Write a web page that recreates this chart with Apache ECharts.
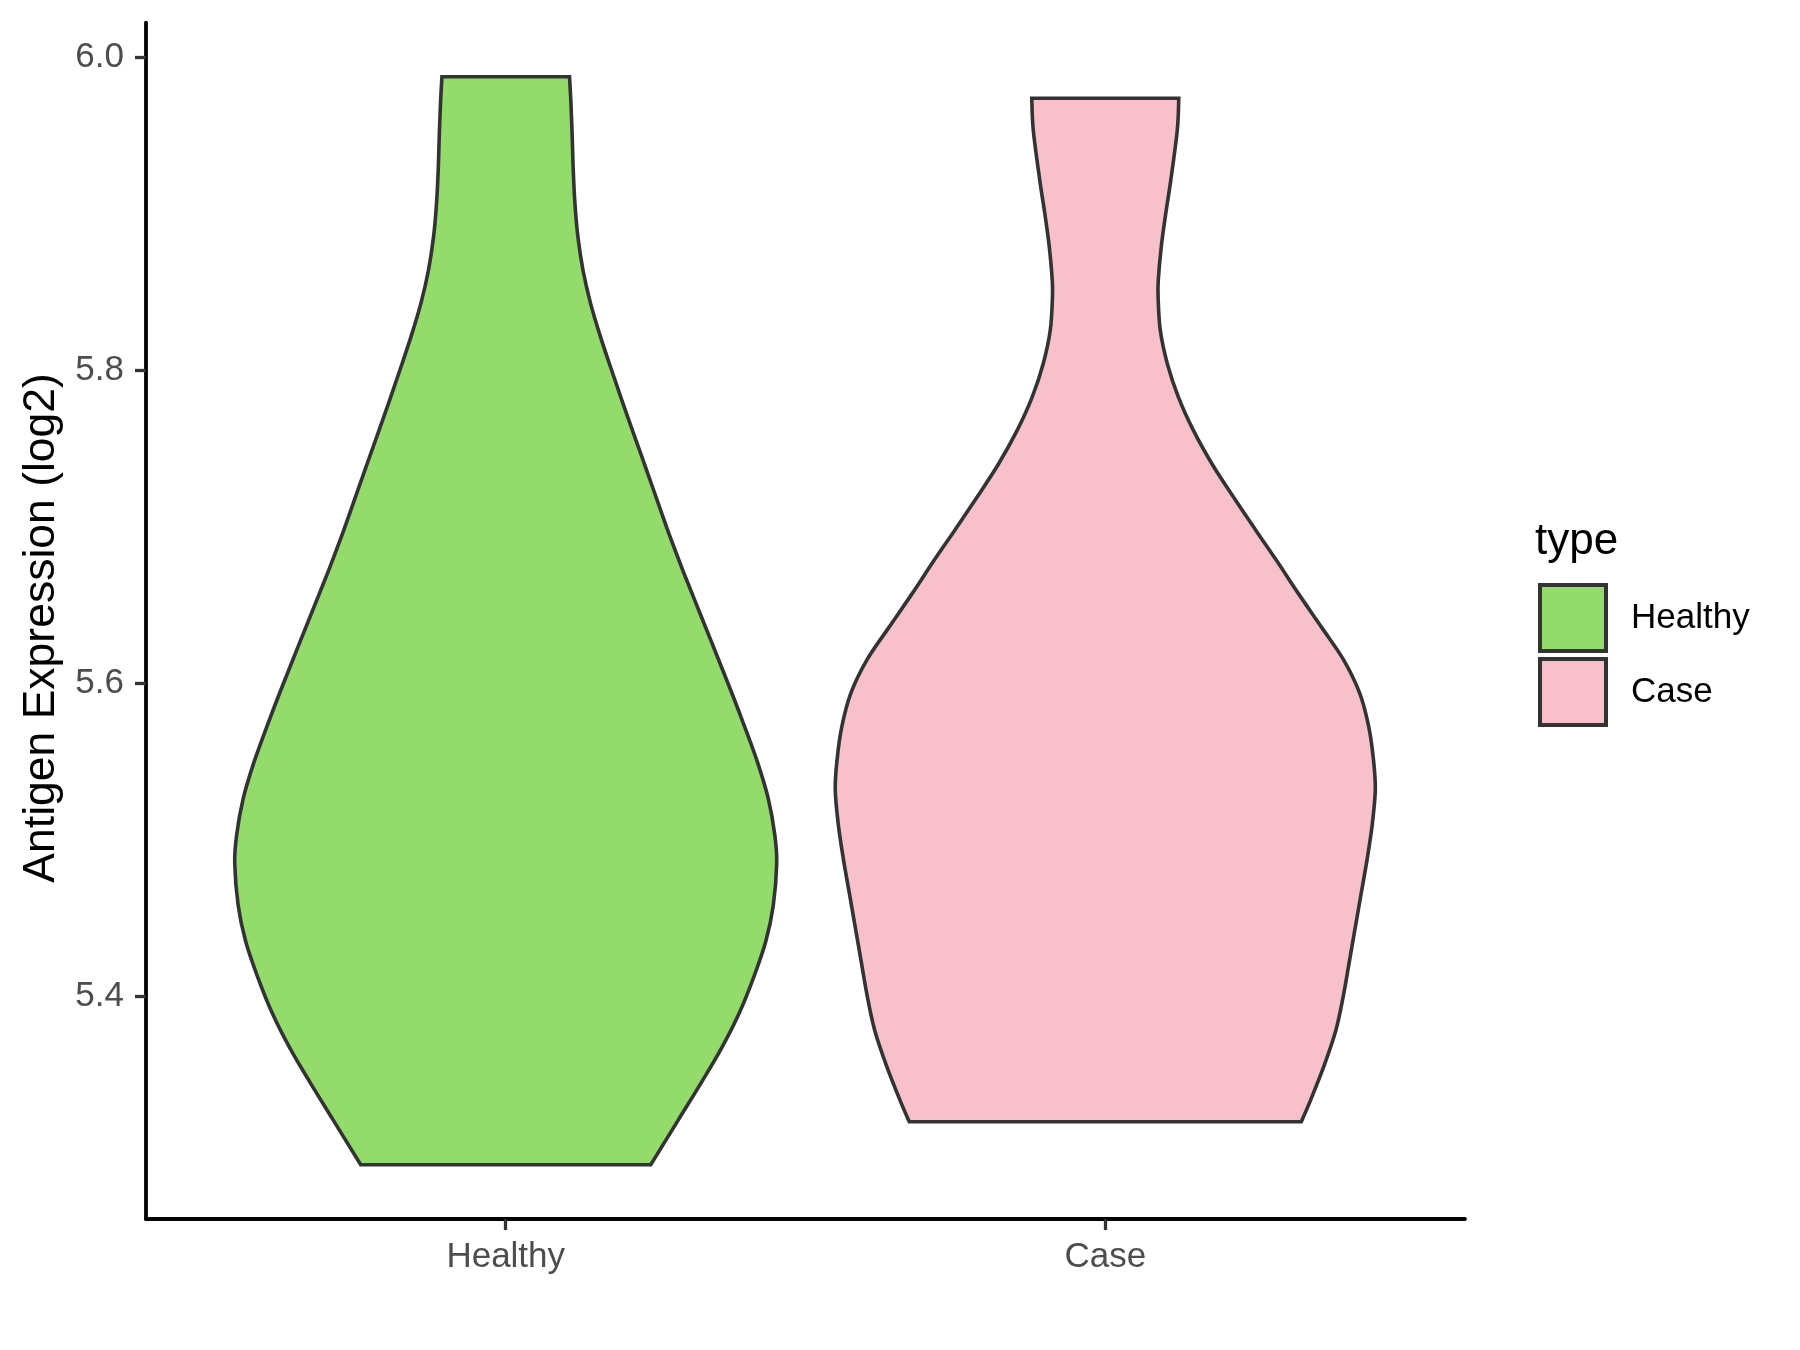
<!DOCTYPE html>
<html>
<head>
<meta charset="utf-8">
<script src="https://cdn.jsdelivr.net/npm/echarts@6/dist/echarts.min.js"></script>
<style>
html,body{margin:0;padding:0;background:#fff;}
#chart{width:1800px;height:1350px;}
</style>
</head>
<body>
<div id="chart"></div>
<script>
// ---- data ----
const categories = ['Healthy', 'Case'];
const yTicks = [5.4, 5.6, 5.8, 6.0];
const seriesColors = ['#93DB6A', '#F8C0CB'];

// Healthy violin outline: values (top -> bottom) and half-widths (category units)
const healthyY = [5.9875, 5.9705, 5.9491, 5.9279, 5.9066, 5.8852, 5.8640, 5.8427, 5.8213, 5.8001,
  5.7788, 5.7574, 5.7362, 5.7149, 5.6936, 5.6723, 5.6510, 5.6275, 5.5947, 5.5720,
  5.5491, 5.5263, 5.5034, 5.4852, 5.4578, 5.4350, 5.4123, 5.3893, 5.3665, 5.3437,
  5.3209, 5.2924];
const healthyHalf = [0.1064, 0.1088, 0.1109, 0.1126, 0.1154, 0.1204, 0.1288, 0.1415, 0.1581, 0.1765,
  0.1955, 0.2152, 0.2349, 0.2544, 0.2741, 0.2952, 0.3174, 0.3420, 0.3761, 0.3987,
  0.4203, 0.4379, 0.4487, 0.4520, 0.4462, 0.4337, 0.4137, 0.3895, 0.3595, 0.3244,
  0.2877, 0.2419];

// Case violin outline
const caseY = [5.9737, 5.9534, 5.9215, 5.9002, 5.8789, 5.8576, 5.8469, 5.8256, 5.8043, 5.7830,
  5.7617, 5.7404, 5.7191, 5.6978, 5.6787, 5.6574, 5.6360, 5.6148, 5.5935, 5.5721,
  5.5509, 5.5321, 5.5101, 5.4881, 5.4661, 5.4441, 5.4220, 5.4001, 5.3781, 5.3560,
  5.3340, 5.3198];
const caseHalf = [0.1226, 0.1201, 0.1093, 0.1009, 0.0934, 0.0884, 0.0881, 0.0917, 0.1034, 0.1218,
  0.1468, 0.1776, 0.2135, 0.2510, 0.2852, 0.3219, 0.3603, 0.3978, 0.4245, 0.4395,
  0.4474, 0.4504, 0.4454, 0.4370, 0.4270, 0.4170, 0.4070, 0.3970, 0.3845, 0.3653,
  0.3428, 0.3269];

const violins = [
  { name: 'Healthy', pos: 1, ys: healthyY, hw: healthyHalf, color: seriesColors[0] },
  { name: 'Case', pos: 2, ys: caseY, hw: caseHalf, color: seriesColors[1] }
];

const FONT = "'Liberation Sans', Arial, Helvetica, sans-serif";
const chart = echarts.init(document.getElementById('chart'), null, { renderer: 'canvas' });

// Catmull-Rom spline through pixel points -> cubic bezier path commands
function splineCmds(pts) {
  let d = '';
  const n = pts.length;
  for (let i = 0; i < n - 1; i++) {
    const p0 = pts[Math.max(i - 1, 0)], p1 = pts[i], p2 = pts[i + 1], p3 = pts[Math.min(i + 2, n - 1)];
    const c1x = p1[0] + (p2[0] - p0[0]) / 6, c1y = p1[1] + (p2[1] - p0[1]) / 6;
    const c2x = p2[0] - (p3[0] - p1[0]) / 6, c2y = p2[1] - (p3[1] - p1[1]) / 6;
    d += ' C' + c1x.toFixed(2) + ',' + c1y.toFixed(2) + ' ' + c2x.toFixed(2) + ',' + c2y.toFixed(2) + ' ' + p2[0].toFixed(2) + ',' + p2[1].toFixed(2);
  }
  return d;
}

function makeRender(v) {
  return function (params, api) {
    const c = api.value(0);
    const left = v.ys.map((y, i) => api.coord([c - v.hw[i], y]));
    const right = v.ys.map((y, i) => api.coord([c + v.hw[i], y])).reverse();
    let d = 'M' + left[0][0].toFixed(2) + ',' + left[0][1].toFixed(2);
    d += splineCmds(left);
    d += ' L' + right[0][0].toFixed(2) + ',' + right[0][1].toFixed(2);
    d += splineCmds(right);
    d += ' Z';
    return {
      type: 'path',
      shape: { pathData: d },
      style: { fill: v.color, stroke: '#333333', lineWidth: 3.6, lineJoin: 'miter' }
    };
  };
}

const option = {
  backgroundColor: '#ffffff',
  animation: false,
  color: seriesColors,
  grid: { left: 146, right: 335, top: 22.7, bottom: 131, containLabel: false },
  title: {
    text: 'type', left: 1535, top: 519.5, padding: 0,
    textStyle: { fontFamily: FONT, fontSize: 44, fontWeight: 'normal', color: '#000', lineHeight: 44 }
  },
  legend: {
    orient: 'vertical', left: 1538, top: 583, padding: 0,
    itemWidth: 66, itemHeight: 66, itemGap: 4,
    selectedMode: false,
    textStyle: { fontFamily: FONT, fontSize: 35, color: '#000', padding: [0, 0, 0, 20] },
    data: violins.map(v => ({
      name: v.name, icon: 'rect',
      itemStyle: { color: v.color, borderColor: '#333333', borderWidth: 4 }
    }))
  },
  xAxis: {
    type: 'value', min: 0.4, max: 2.6,
    splitLine: { show: false },
    axisLine: { show: true, onZero: false, lineStyle: { color: '#000', width: 3.8 } },
    axisTick: { show: true, customValues: [1, 2], length: 11, lineStyle: { color: '#333333', width: 3.3 } },
    axisLabel: {
      customValues: [1, 2],
      formatter: function (val) { return categories[Math.round(val) - 1] || ''; },
      margin: 21, fontFamily: FONT, fontSize: 35, color: '#4D4D4D'
    }
  },
  yAxis: {
    type: 'value', min: 5.2577, max: 6.022,
    name: 'Antigen Expression (log2)', nameLocation: 'middle', nameGap: 82,
    nameTextStyle: { fontFamily: FONT, fontSize: 44.5, color: '#000', padding: [0, 14, 0, 0] },
    splitLine: { show: false },
    axisLine: { show: true, onZero: false, lineStyle: { color: '#000', width: 3.8 } },
    axisTick: { show: true, customValues: yTicks, length: 11, lineStyle: { color: '#333333', width: 3.3 } },
    axisLabel: {
      customValues: yTicks,
      formatter: function (val) { return Number(val).toFixed(1); },
      margin: 22, fontFamily: FONT, fontSize: 35, color: '#4D4D4D'
    }
  },
  series: violins.map(v => ({
    name: v.name,
    type: 'custom',
    renderItem: makeRender(v),
    itemStyle: { color: v.color, borderColor: '#333333' },
    encode: { x: 0, y: 1 },
    data: [[v.pos, v.ys[0]]],
    clip: false,
    silent: true
  }))
};

chart.setOption(option);
</script>
</body>
</html>
